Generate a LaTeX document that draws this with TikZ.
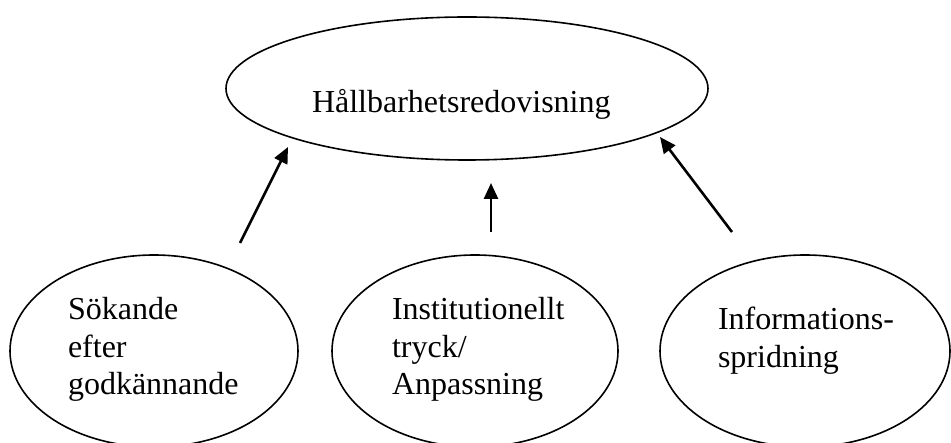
\documentclass[tikz,border=0pt]{standalone}
\usepackage{fontspec}
\setmainfont{Liberation Serif}
\usetikzlibrary{shapes.geometric,arrows.meta}
\begin{document}
\begin{tikzpicture}[x=1pt,y=-1pt,
  oval/.style={draw,ellipse,line width=1.6pt,inner sep=0pt,outer sep=0pt},
  lbl/.style={anchor=base west,inner sep=0pt,outer sep=0pt,font=\fontsize{32}{37.5}\selectfont},
  arr/.style={line width=2.6pt,-{Triangle[length=16pt,width=14pt]}}]
\useasboundingbox (0,0) rectangle (951,443);
% ovals
\node[oval,minimum width=482pt,minimum height=143pt] (top) at (467,88.5) {};
\node[oval,minimum width=288pt,minimum height=192pt] (left) at (154,351) {};
\node[oval,minimum width=286pt,minimum height=192pt] (mid) at (475,351) {};
\node[oval,minimum width=290pt,minimum height=192pt] (right) at (805,351) {};
% labels
\node[lbl] (ttop) at (312,113) {Hållbarhetsredovisning};
\node[lbl] (tleft) at (68,320) {\vtop{\hbox{Sökande}\hbox{efter}\hbox{godkännande}}};
\node[lbl] (tmid) at (392,320) {\vtop{\hbox{Institutionellt}\hbox{tryck/}\hbox{Anpassning}}};
\node[lbl] (tright) at (718,330) {\vtop{\hbox{Informations-}\hbox{spridning}}};
% arrow ends
\coordinate (a1s) at (240,243); \coordinate (a1e) at (288,147);
\coordinate (a2s) at (491,232); \coordinate (a2e) at (491,183);
\coordinate (a3s) at (732,232); \coordinate (a3e) at (660,137);
\draw[arr] (a1s) -- (a1e);
\draw[arr] (a2s) -- (a2e);
\draw[arr] (a3s) -- (a3e);
\end{tikzpicture}
\end{document}
